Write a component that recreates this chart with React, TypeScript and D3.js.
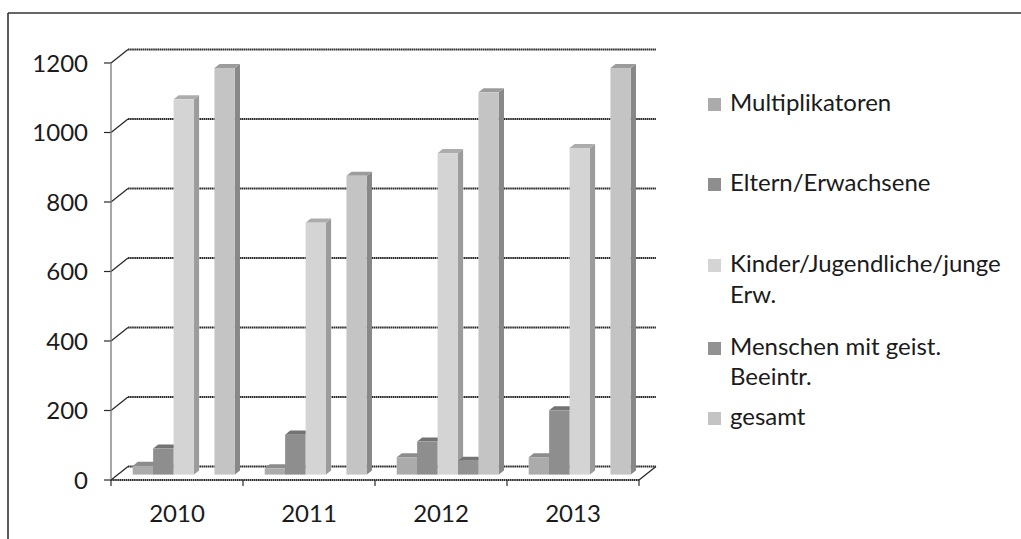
import React from "react";
import * as d3 from "d3";

const categories = ["2010", "2011", "2012", "2013"];
const seriesNames = [
  "Multiplikatoren",
  "Eltern/Erwachsene",
  "Kinder/Jugendliche/junge Erw.",
  "Menschen mit geist. Beeintr.",
  "gesamt",
];
const multiplikatoren = [25, 18, 50, 50];
const eltern = [75, 115, 95, 185];
const kinder = [1080, 725, 925, 940];
const menschen = [0, 0, 40, 0];
const gesamt = [1170, 860, 1100, 1170];
const yTicks = [0, 200, 400, 600, 800, 1000, 1200];

const seriesValues = [multiplikatoren, eltern, kinder, menschen, gesamt];
const frontColors = ["#ababab", "#8e8e8e", "#d4d4d4", "#929292", "#c4c4c4"];
const sideColors = ["#7c7c7c", "#646464", "#9c9c9c", "#666666", "#888888"];
const topColors = ["#8c8c8c", "#737373", "#acacac", "#747474", "#9c9c9c"];

const legendLines = [
  ["Multiplikatoren"],
  ["Eltern/Erwachsene"],
  ["Kinder/Jugendliche/junge", "Erw."],
  ["Menschen mit geist.", "Beeintr."],
  ["gesamt"],
];

export default function App() {
  const W = 1021;
  const H = 539;
  const left = 111;
  const right = 639;
  const depth = { x: 17, y: -13.5 };
  const fd = 0.4;
  const bd = 0.7;

  const x = d3.scaleBand<string>().domain(categories).range([left, right]).padding(0);
  const inner = d3
    .scaleBand<number>()
    .domain(d3.range(seriesNames.length))
    .range([0, x.bandwidth()])
    .paddingInner(0)
    .paddingOuter(0.73);
  const y = d3.scaleLinear().domain([0, 1200]).range([480, 63]);

  const fx = depth.x * fd, fy = depth.y * fd;
  const bx = depth.x * bd, by = depth.y * bd;
  const font = "Lato, 'Open Sans', sans-serif";
  const lineCol = "#2a2a2a";

  const bars: React.ReactNode[] = [];
  categories.forEach((c, ci) => {
    seriesValues.forEach((vals, si) => {
      const v = vals[ci];
      if (!v) return;
      const x0 = (x(c) as number) + (inner(si) as number);
      const x1 = x0 + inner.bandwidth();
      const yv = y(v);
      const y0 = y(0);
      const pts = (arr: number[][]) => arr.map((p) => p.join(",")).join(" ");
      bars.push(
        <g key={`${ci}-${si}`}>
          <polygon
            points={pts([
              [x1 + fx, yv + fy],
              [x1 + bx, yv + by],
              [x1 + bx, y0 + by],
              [x1 + fx, y0 + fy],
            ])}
            fill={sideColors[si]}
          />
          <polygon
            points={pts([
              [x0 + fx, yv + fy],
              [x1 + fx, yv + fy],
              [x1 + bx, yv + by],
              [x0 + bx, yv + by],
            ])}
            fill={topColors[si]}
          />
          <rect x={x0 + fx} y={yv + fy} width={inner.bandwidth()} height={y0 - yv} fill={frontColors[si]} />
        </g>
      );
    });
  });

  const legendBaselines = [[111], [191], [272, 303], [355, 385], [425]];

  return (
    <svg
      width={W}
      height={H}
      style={{ position: "absolute", left: 0, top: 0, background: "#fff" }}
    >
      <rect x={0} y={0} width={W} height={H} fill="#fff" />
      {/* frame */}
      <line x1={8} y1={13} x2={W} y2={13} stroke="#333" strokeWidth={1.6} />
      <line x1={8} y1={13} x2={8} y2={H} stroke="#333" strokeWidth={1.6} />

      {/* gridlines: side wall + back wall */}
      {yTicks.map((t) => (
        <g key={t}>
          <line
            x1={left}
            y1={y(t)}
            x2={left + depth.x}
            y2={y(t) + depth.y}
            stroke={lineCol}
            strokeWidth={1.3}
          />
          <line
            x1={left + depth.x}
            y1={y(t) + depth.y}
            x2={right + depth.x}
            y2={y(t) + depth.y}
            stroke={lineCol}
            strokeWidth={1.8}
            strokeDasharray="1.6 0.5"
          />
          <line x1={left - 7} y1={y(t)} x2={left} y2={y(t)} stroke={lineCol} strokeWidth={1.2} />
          <text
            x={88}
            y={y(t)}
            dy="0.36em"
            textAnchor="end"
            fontFamily={font}
            fontSize={24}
            fill="#1b1b1b"
          >
            {t}
          </text>
        </g>
      ))}
      {/* floor right edge */}
      <line x1={right} y1={y(0)} x2={right + depth.x} y2={y(0) + depth.y} stroke={lineCol} strokeWidth={1.3} />
      {/* y axis */}
      <line x1={left} y1={y(1200)} x2={left} y2={y(0)} stroke="#777" strokeWidth={1.3} />

      {bars}

      {/* front axis */}
      <line x1={left} y1={y(0)} x2={right} y2={y(0)} stroke={lineCol} strokeWidth={1.8} strokeDasharray="1.6 0.5" />
      {categories.concat(["end"]).map((c, i) => {
        const xx = i < categories.length ? (x(c) as number) : right;
        return <line key={`t${i}`} x1={xx} y1={y(0)} x2={xx} y2={y(0) + 6} stroke={lineCol} strokeWidth={1.2} />;
      })}
      {categories.map((c) => (
        <text
          key={`c${c}`}
          x={(x(c) as number) + x.bandwidth() / 2}
          y={522}
          textAnchor="middle"
          fontFamily={font}
          fontSize={24}
          fill="#1b1b1b"
        >
          {c}
        </text>
      ))}

      {/* legend */}
      {legendLines.map((lines, i) => (
        <g key={`l${i}`}>
          <rect x={708} y={legendBaselines[i][0] - 13} width={13} height={13} fill={frontColors[i]} />
          {lines.map((ln, j) => (
            <text
              key={j}
              x={730}
              y={legendBaselines[i][j]}
              fontFamily={font}
              fontSize={24}
              fill="#1b1b1b"
            >
              {ln}
            </text>
          ))}
        </g>
      ))}
    </svg>
  );
}
